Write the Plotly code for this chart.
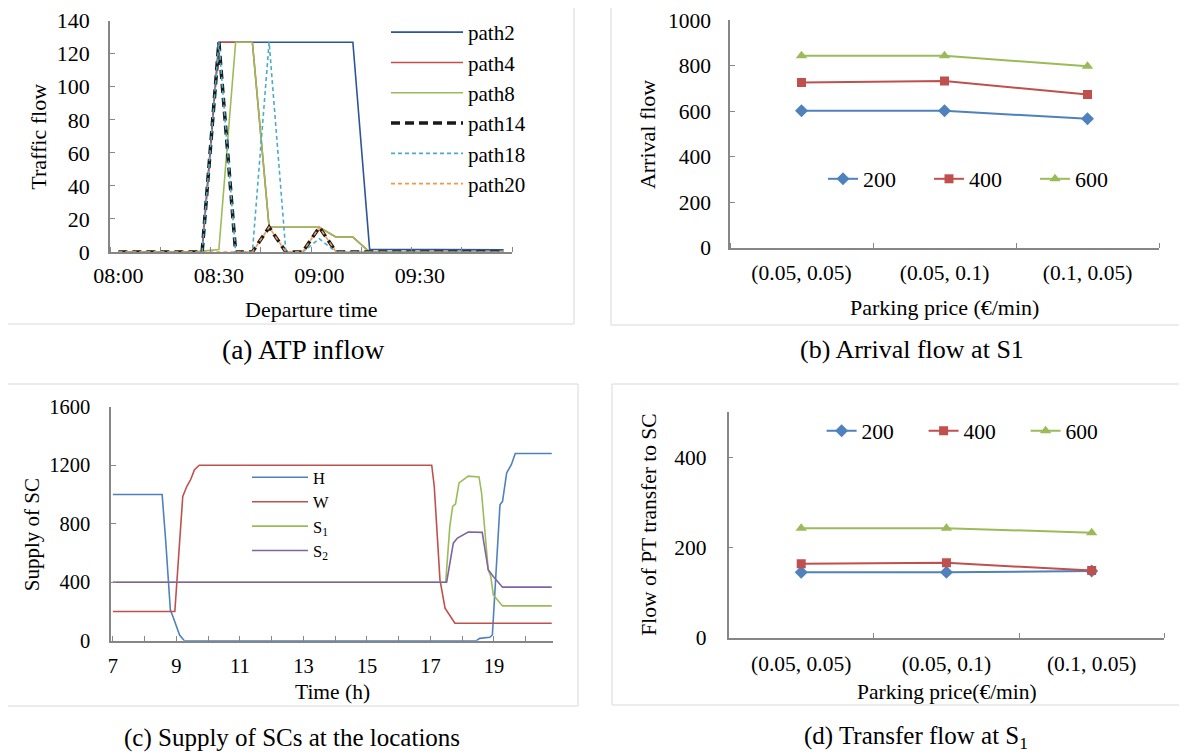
import plotly.graph_objects as go

PAGE_W, PAGE_H = 1187, 755
BODY = 8  # browser default body margin
W, H = PAGE_W - BODY, PAGE_H - BODY
FONT = "Liberation Serif, Times New Roman, serif"
AXC = "#868686"

# ---------- (a) ATP inflow ----------
time_labels = ["08:00", "08:05", "08:10", "08:15", "08:20", "08:25", "08:30", "08:35",
               "08:40", "08:45", "08:50", "08:55", "09:00", "09:05", "09:10", "09:15",
               "09:20", "09:25", "09:30", "09:35", "09:40", "09:45", "09:50", "09:55"]
path2 = [0, 0, 0, 0, 0, 0, 127, 127, 127, 127, 127, 127, 127, 127, 127, 1.6,
         1.6, 1.5, 1.5, 1.5, 1.4, 1.4, 1.3, 1.3]
path4 = [0, 0, 0, 0, 0, 0, 127, 127, 127, 15, 15, 15, 15, 9, 9, 0,
         0, 0, 0, 0, 0, 0, 0, 0]
path8 = [0, 0, 0, 0, 0, 0.5, 1.5, 127, 127, 15, 15, 15, 15, 9, 9, 0,
         0, 0, 0, 0, 0, 0, 0, 0]
path14 = [0, 0, 0, 0, 0, 0, 127, 0, 0, 15, 0, 0, 15, 0, 0, 0,
          0, 0, 0, 0, 0, 0, 0, 0]
path18 = [0, 0, 0, 0, 0, 0, 127, 0, 0, 127, 0, 0, 8, 0, 0, 0,
          0, 0, 0, 0, 0, 0, 0, 0]
path20 = [0, 0, 0, 0, 0, 0, 0, 0, 0, 15, 0, 0, 15, 0, 0, 0,
          0, 0, 0, 0, 0, 0, 0, 0]
a_tick_labels = ["08:00", "08:30", "09:00", "09:30"]

# ---------- (b) Arrival flow at S1 ----------
price_cats_b = ["(0.05, 0.05)", "(0.05, 0.1)", "(0.1, 0.05)"]
arr_200 = [601, 601, 566]
arr_400 = [726, 732, 673]
arr_600 = [843, 843, 797]

# ---------- (c) Supply of SCs ----------
H_t = [7, 8.55, 8.66, 8.74, 8.81, 8.89, 8.99, 9.1, 9.25, 18.45, 18.55, 18.87, 18.95,
       19.19, 19.27, 19.4, 19.55, 19.67, 20.82]
H_v = [1000, 1000, 690, 400, 210, 165, 107, 39, 0, 0, 16, 23, 39,
       930, 953, 1147, 1205, 1280, 1280]
W_t = [7, 8.95, 9.2, 9.33, 9.45, 9.57, 9.72, 17.04, 17.12, 17.3, 17.46, 17.77, 20.82]
W_v = [200, 200, 987, 1056, 1102, 1170, 1200, 1200, 1056, 416, 222, 119, 119]
S1_t = [7, 17.48, 17.61, 17.7, 17.79, 17.9, 18.19, 18.53, 18.61, 18.82, 18.9, 18.98,
        19.27, 20.82]
S1_v = [400, 400, 782, 919, 935, 1079, 1125, 1120, 1010, 485, 439, 313, 238, 238]
S2_t = [7, 17.51, 17.72, 17.85, 18.19, 18.63, 18.82, 18.98, 19.27, 20.82]
S2_v = [400, 400, 667, 702, 743, 741, 485, 439, 366, 366]

# ---------- (d) Transfer flow at S1 ----------
price_cats_d = ["(0.05, 0.05)", "(0.05, 0.1)", "(0.1, 0.05)"]
tr_200 = [145, 145, 148]
tr_400 = [164, 166, 149]
tr_600 = [243, 243, 233]

BLUE, RED, GREEN, PURPLE = "#4F81BD", "#C0504D", "#9BBB59", "#8064A2"


def px(x):
    return (x - BODY) / W


def py(y):
    return 1 - (y - BODY) / H


fig = go.Figure()
ia = list(range(len(time_labels)))

# (a) traces
a_series = [
    ("path2", path2, dict(color="#2B5597", width=1.6)),
    ("path4", path4, dict(color=RED, width=1.6)),
    ("path8", path8, dict(color=GREEN, width=1.6)),
    ("path14", path14, dict(color="#1a1a1a", width=3.5, dash="9px,5px")),
    ("path18", path18, dict(color="#4BACC6", width=1.6, dash="4px,3px")),
    ("path20", path20, dict(color="#F79646", width=1.6, dash="4px,3px")),
]
for name, vals, line in a_series:
    fig.add_trace(go.Scatter(x=ia, y=vals, mode="lines", name=name, line=line,
                             xaxis="x", yaxis="y", legend="legend", legendgroup=name))

# (b) traces
ib = list(range(len(price_cats_b)))
for name, vals, col, sym, sz in [("200", arr_200, BLUE, "diamond", 10),
                                 ("400", arr_400, RED, "square", 9),
                                 ("600", arr_600, GREEN, "triangle-up", 10)]:
    fig.add_trace(go.Scatter(x=ib, y=vals, mode="lines+markers", name=name,
                             line=dict(color=col, width=2),
                             marker=dict(symbol=sym, size=sz, color=col),
                             xaxis="x2", yaxis="y2", legend="legend2"))

# (c) traces
for name, t, v, col in [("H", H_t, H_v, BLUE), ("W", W_t, W_v, RED),
                        ("S<sub>1</sub>", S1_t, S1_v, GREEN),
                        ("S<sub>2</sub>", S2_t, S2_v, PURPLE)]:
    fig.add_trace(go.Scatter(x=t, y=v, mode="lines", name=name,
                             line=dict(color=col, width=1.6),
                             xaxis="x3", yaxis="y3", legend="legend3", legendgroup=name))

# (d) traces
idd = list(range(len(price_cats_d)))
for name, vals, col, sym, sz in [("200", tr_200, BLUE, "diamond", 10),
                                 ("400", tr_400, RED, "square", 9),
                                 ("600", tr_600, GREEN, "triangle-up", 10)]:
    fig.add_trace(go.Scatter(x=idd, y=vals, mode="lines+markers", name=name,
                             line=dict(color=col, width=2),
                             marker=dict(symbol=sym, size=sz, color=col),
                             xaxis="x4", yaxis="y4", legend="legend4"))

TF = dict(family=FONT, size=21.5, color="black")
base_ax = dict(showline=True, linecolor=AXC, linewidth=1.5, showgrid=False, zeroline=False,
               ticks="inside", ticklen=5, tickcolor=AXC, tickwidth=1.2,
               tickfont=TF, automargin=False)

fig.update_layout(
    width=W, height=H, margin=dict(l=0, r=0, t=0, b=0, pad=0, autoexpand=False),
    paper_bgcolor="white", plot_bgcolor="white",
    font=dict(family=FONT, size=21, color="black"),
    xaxis=dict(base_ax, domain=[px(110), px(512)], range=[-0.5, 23.5],
               tickmode="array", tickvals=[0, 6, 12, 18], ticktext=a_tick_labels, ticks="",
               minor=dict(tickmode="array", tickvals=[-0.5 + 3 * k for k in range(9)],
                          ticks="inside", ticklen=5, tickcolor=AXC),
               tickfont=dict(family=FONT, size=22, color="black"),
               ticklabelstandoff=3, anchor="y"),
    yaxis=dict(base_ax, domain=[py(252), py(20.7)], range=[0, 140], dtick=20,
               tickfont=dict(family=FONT, size=22, color="black"),
               ticklabelstandoff=14, anchor="x"),
    xaxis2=dict(base_ax, domain=[px(730), px(1159)], range=[-0.5, 2.5],
                tickmode="array", tickvals=ib, ticktext=price_cats_b, ticks="",
                minor=dict(tickmode="array", tickvals=[-0.5, 0.5, 1.5, 2.5],
                           ticks="inside", ticklen=5, tickcolor=AXC),
                ticklabelstandoff=5, anchor="y2"),
    yaxis2=dict(base_ax, domain=[py(247.7), py(20)], range=[0, 1000], dtick=200,
                ticklabelstandoff=13, anchor="x2"),
    xaxis3=dict(base_ax, domain=[px(111), px(552.7)], range=[6.94, 20.85],
                tickmode="array", tickvals=[7, 9, 11, 13, 15, 17, 19],
                minor=dict(tickmode="array", tickvals=[8, 10, 12, 14, 16, 18, 20],
                           ticks="inside", ticklen=5, tickcolor=AXC),
                tickfont=dict(family=FONT, size=20.5, color="black"),
                ticklabelstandoff=6, anchor="y3"),
    yaxis3=dict(base_ax, domain=[py(640.7), py(406.7)], range=[0, 1600], dtick=400,
                tickfont=dict(family=FONT, size=20.5, color="black"),
                ticklabelstandoff=15, anchor="x3"),
    xaxis4=dict(base_ax, domain=[px(728.6), px(1164.3)], range=[-0.5, 2.5],
                tickmode="array", tickvals=idd, ticktext=price_cats_d, ticks="",
                minor=dict(tickmode="array", tickvals=[-0.5, 0.5, 1.5, 2.5],
                           ticks="inside", ticklen=5, tickcolor=AXC),
                ticklabelstandoff=6, anchor="y4"),
    yaxis4=dict(base_ax, domain=[py(637.7), py(412.3)], range=[0, 500],
                tickmode="array", tickvals=[0, 200, 400],
                ticklabelstandoff=16, anchor="x4"),
    legend=dict(x=px(386), y=py(12), xanchor="left", yanchor="top",
                font=dict(family=FONT, size=21), tracegroupgap=0,
                bgcolor="rgba(0,0,0,0)", itemwidth=72),
    legend2=dict(x=px(823), y=py(179), xanchor="left", yanchor="middle",
                 orientation="h", entrywidth=61, entrywidthmode="pixels",
                 font=dict(family=FONT, size=22), bgcolor="rgba(0,0,0,0)"),
    legend3=dict(x=px(247), y=py(460), xanchor="left", yanchor="top",
                 font=dict(family=FONT, size=16.5), tracegroupgap=0,
                 bgcolor="rgba(0,0,0,0)", itemwidth=56),
    legend4=dict(x=px(821.6), y=py(430.7), xanchor="left", yanchor="middle",
                 orientation="h", entrywidth=57, entrywidthmode="pixels",
                 font=dict(family=FONT, size=21.5), bgcolor="rgba(0,0,0,0)"),
)

# panel borders
for (x0, y0, x1, y1) in [(7, 3, 574, 324), (611, 3, 1183, 325),
                          (7, 384, 578, 706), (612, 384, 1183, 705)]:
    fig.add_shape(type="rect", xref="paper", yref="paper",
                  x0=px(x0), x1=px(x1), y0=py(y1), y1=py(y0),
                  line=dict(color="#D9D9D9", width=1), layer="below")

# axis titles and captions
texts = [
    ("Traffic flow", 37.7, 137, 22, -90),
    ("Departure time", 312, 310, 22, 0),
    ("Arrival flow", 647.6, 134.5, 22, -90),
    ("Parking price (€/min)", 944, 307, 22, 0),
    ("Supply of SC", 31.7, 534.5, 21, -90),
    ("Time (h)", 332, 692, 21.5, 0),
    ("Flow of PT transfer to SC", 648.7, 525, 21.5, -90),
    ("Parking price(€/min)", 947, 692, 21.5, 0),
    ("(a) ATP inflow", 303, 350, 27.5, 0),
    ("(b) Arrival flow at S1", 912, 350, 26, 0),
    ("(c) Supply of SCs at the locations", 291.5, 738, 25, 0),
    ("(d) Transfer flow at S<sub>1</sub>", 916, 737, 25, 0),
]
for txt, x, y, sz, ang in texts:
    fig.add_annotation(text=txt, x=px(x), y=py(y), xref="paper", yref="paper",
                       xanchor="center", yanchor="middle", showarrow=False,
                       textangle=ang, font=dict(family=FONT, size=sz, color="black"))

fig.write_html("out.html")
